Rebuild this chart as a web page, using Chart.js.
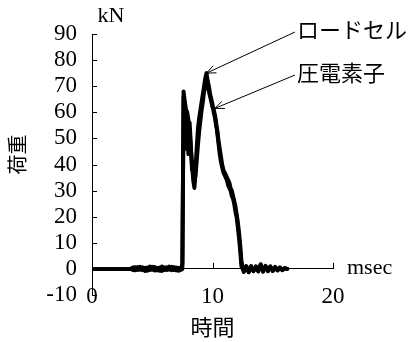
<!DOCTYPE html>
<html>
<head>
<meta charset="utf-8">
<script src="https://cdn.jsdelivr.net/npm/chart.js@4"></script>
<style>
  body { margin: 0; background: #fff; }
</style>
</head>
<body>
<canvas id="loadChart" width="411" height="342"></canvas>
<script>
// sample times (msec)
const times = [
  0, 3.2, 3.4, 3.6, 3.8, 4.0, 4.2, 4.4, 4.6, 4.8, 5.0, 5.2, 5.4, 5.6, 5.8, 6.0, 6.2, 6.4, 6.6, 6.8, 7.0, 7.2, 7.4,
  7.5, 7.6, 7.7, 7.8, 7.9, 8.0, 8.1, 8.2, 8.3, 8.4, 8.5, 8.6, 8.7, 8.8, 8.9, 9.0, 9.1, 9.2, 9.3, 9.4,
  9.5, 9.6, 9.7, 9.8, 9.9, 10.0, 10.1, 10.2, 10.3, 10.4, 10.5, 10.6, 10.7, 10.8, 10.9, 11.0, 11.1, 11.2,
  11.3, 11.4, 11.5, 11.6, 11.7, 11.8, 11.9, 12.0, 12.1, 12.2, 12.3, 12.4,
  12.6, 12.8, 13.0, 13.2, 13.4, 13.6, 13.8, 14.0, 14.2, 14.4, 14.6, 14.8, 15.0, 15.2, 15.4, 15.6, 15.8, 16.0, 16.2
];

// ロードセル (kN)
const loadCell = [
  0, 0, 0.5, 0.6, -0.4, 0.8, -0.5, 0.4, -0.7, 0.9, -0.3, 0.7, -0.6, 0.5, -0.8, 0.6, -0.4, 0.9, -0.5, 0.7, -0.6, 0.4, -0.3,
  2, 68, 64, 61, 60, 57, 52, 46, 40, 34, 31, 39, 47, 54, 58, 61, 64, 67, 70, 73,
  75, 72, 70, 67, 65, 63, 60, 58, 55, 53, 49, 46, 43, 40, 38, 37, 36, 35,
  34, 33, 31, 30, 28, 26, 24, 21, 18, 14, 9, 3,
  -1.2, 0.8, -0.9, 1.1, -0.7, 0.6, -1.0, 1.4, -0.8, 1.2, -0.9, 0.7, -0.6, 0.8, -0.5, 0.6, -0.4, 0.3, 0
];

// 圧電素子 (kN)
const piezo = [
  0, 0, -0.4, -0.5, 0.7, -0.3, 0.6, -0.8, 0.5, -0.4, 0.8, -0.6, 0.4, -0.7, 0.9, -0.5, 0.6, -0.3, 0.8, -0.4, 0.5, -0.7, 0.2,
  0, 66, 46, 58, 52, 44, 56, 48, 38, 41, 33, 36, 42, 48, 53, 57, 61, 64, 68, 70,
  72, 71, 68, 66, 64, 62, 61, 59, 56, 52, 48, 44, 41, 39, 37, 36, 35, 34,
  32, 31, 30, 28, 27, 25, 22, 20, 16, 12, 7, 1,
  -0.8, 1.1, -1.3, 0.7, -0.9, 1.0, -0.6, 1.8, -1.1, 0.9, -0.7, 1.0, -0.8, 0.5, -0.6, 0.4, -0.5, 0.2, 0
];

const xTitle = '時間';
const yTitle = '荷重';
const xUnit = 'msec';
const yUnit = 'kN';

// callouts: label and the point the arrow points at
const calloutLabels = ['ロードセル', '圧電素子'];
const calloutTimes = [9.5, 10.2];
const calloutValues = [75, 61.5];

const numFont = { family: '"Liberation Serif", serif', size: 23 };
const jpFont = '"Noto Sans CJK JP", sans-serif';

const overlay = {
  id: 'overlay',
  afterDraw(chart) {
    const { ctx, scales: { x, y } } = chart;
    const zeroY = y.getPixelForValue(0);
    ctx.save();
    ctx.fillStyle = '#000';
    ctx.strokeStyle = '#000';
    ctx.lineWidth = 1;

    // inward tick marks
    ctx.beginPath();
    y.ticks.forEach(t => {
      const py = Math.round(y.getPixelForValue(t.value)) + 0.5;
      ctx.moveTo(x.left, py);
      ctx.lineTo(x.left + 5, py);
    });
    x.ticks.forEach(t => {
      const px = Math.round(x.getPixelForValue(t.value)) + 0.5;
      ctx.moveTo(px, zeroY);
      ctx.lineTo(px, zeroY - 6);
    });
    ctx.stroke();

    // units
    ctx.textBaseline = 'middle';
    ctx.font = '22px "Liberation Serif", serif';
    ctx.textAlign = 'center';
    ctx.fillText(yUnit, x.left + 19, y.top - 18);
    ctx.textAlign = 'left';
    ctx.fillText(xUnit, x.right + 14, zeroY - 1);

    // callouts with arrows
    ctx.font = '22px ' + jpFont;
    const labelY = [30, 73];
    calloutLabels.forEach((text, i) => {
      const tx = x.getPixelForValue(calloutTimes[i]);
      const ty = y.getPixelForValue(calloutValues[i]);
      const sx = 295, sy = labelY[i] + 2;
      ctx.fillText(text, 297, labelY[i]);
      ctx.beginPath();
      ctx.moveTo(sx, sy);
      ctx.lineTo(tx, ty);
      const a = Math.atan2(ty - sy, tx - sx);
      ctx.moveTo(tx, ty);
      ctx.lineTo(tx - 10 * Math.cos(a - 0.4), ty - 10 * Math.sin(a - 0.4));
      ctx.moveTo(tx, ty);
      ctx.lineTo(tx - 10 * Math.cos(a + 0.4), ty - 10 * Math.sin(a + 0.4));
      ctx.stroke();
    });
    ctx.restore();
  }
};

const series = [loadCell, piezo];

new Chart(document.getElementById('loadChart'), {
  type: 'line',
  data: {
    datasets: series.map((vals, i) => ({
      label: calloutLabels[i],
      data: times.map((t, j) => ({ x: t, y: vals[j] })),
      borderColor: '#000',
      borderWidth: 4,
      pointRadius: 0,
      tension: 0,
      borderJoinStyle: 'round',
      borderCapStyle: 'round'
    }))
  },
  options: {
    responsive: false,
    animation: false,
    devicePixelRatio: 1,
    layout: { padding: { left: 0, top: 34, right: 78, bottom: 47 } },
    plugins: { legend: { display: false }, tooltip: { enabled: false } },
    scales: {
      x: {
        type: 'linear',
        position: { y: 0 },
        min: 0,
        max: 20,
        ticks: { stepSize: 10, color: '#000', font: numFont, padding: 14, maxRotation: 0, autoSkip: false },
        grid: { drawOnChartArea: false, drawTicks: false },
        border: { color: '#000', width: 1 },
        title: { display: true, text: xTitle, color: '#000', font: { family: jpFont, size: 22 }, padding: 0 },
        afterFit: (s) => { s.height = 71; }
      },
      y: {
        min: -10,
        max: 90,
        ticks: { stepSize: 10, color: '#000', font: numFont, padding: 15, autoSkip: false },
        grid: { drawOnChartArea: false, drawTicks: false },
        border: { color: '#000', width: 1 },
        title: { display: true, text: '　' + yTitle, color: '#000', font: { family: jpFont, size: 20 }, padding: { top: 5 } },
        afterFit: (s) => { s.width = 92; }
      }
    }
  },
  plugins: [overlay]
});
</script>
</body>
</html>
